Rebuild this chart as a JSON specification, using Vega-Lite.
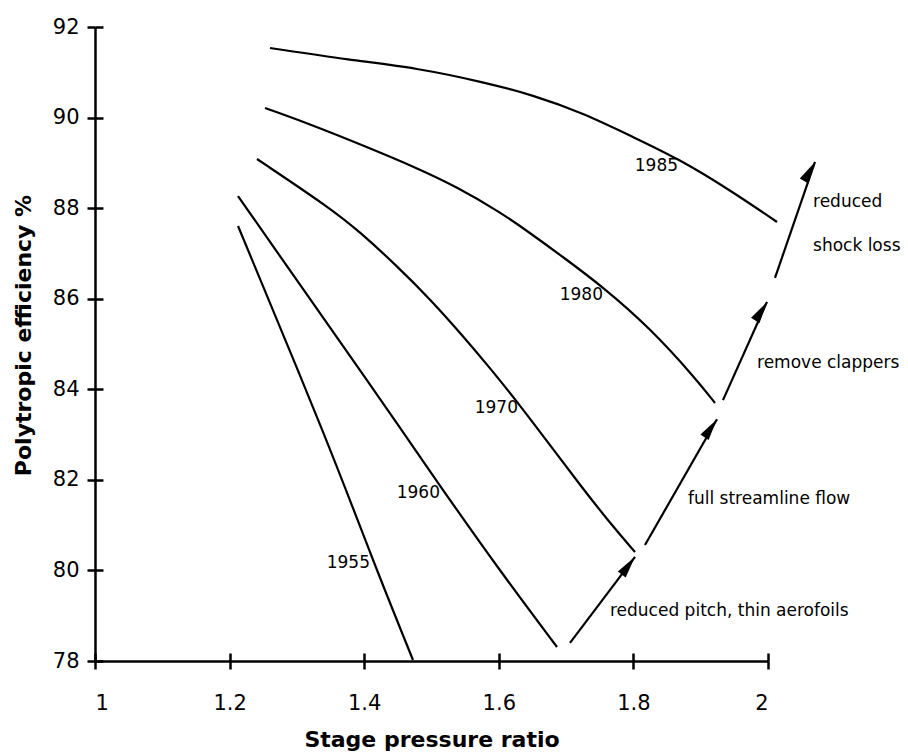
{
  "$schema": "https://vega.github.io/schema/vega-lite/v6.json",
  "width": 673,
  "height": 634,
  "autosize": {"type": "none"},
  "padding": {"left": 95, "top": 27, "right": 140, "bottom": 91},
  "background": "white",
  "datasets": {
    "curves": [
      {"year": "1955", "ratio": 1.2125, "eff": 87.606},
      {"year": "1955", "ratio": 1.3492, "eff": 82.726},
      {"year": "1955", "ratio": 1.4131, "eff": 80.208},
      {"year": "1955", "ratio": 1.4725, "eff": 78.022},
      {"year": "1960", "ratio": 1.2125, "eff": 88.268},
      {"year": "1960", "ratio": 1.3046, "eff": 86.303},
      {"year": "1960", "ratio": 1.3982, "eff": 84.338},
      {"year": "1960", "ratio": 1.5126, "eff": 81.864},
      {"year": "1960", "ratio": 1.6018, "eff": 79.987},
      {"year": "1960", "ratio": 1.6865, "eff": 78.309},
      {"year": "1970", "ratio": 1.2407, "eff": 89.085},
      {"year": "1970", "ratio": 1.3492, "eff": 88.003},
      {"year": "1970", "ratio": 1.3938, "eff": 87.473},
      {"year": "1970", "ratio": 1.4487, "eff": 86.722},
      {"year": "1970", "ratio": 1.4978, "eff": 85.994},
      {"year": "1970", "ratio": 1.5468, "eff": 85.177},
      {"year": "1970", "ratio": 1.5869, "eff": 84.47},
      {"year": "1970", "ratio": 1.6241, "eff": 83.786},
      {"year": "1970", "ratio": 1.6716, "eff": 82.858},
      {"year": "1970", "ratio": 1.7207, "eff": 81.887},
      {"year": "1970", "ratio": 1.7652, "eff": 81.047},
      {"year": "1970", "ratio": 1.8024, "eff": 80.407},
      {"year": "1980", "ratio": 1.2526, "eff": 90.211},
      {"year": "1980", "ratio": 1.315, "eff": 89.88},
      {"year": "1980", "ratio": 1.4042, "eff": 89.35},
      {"year": "1980", "ratio": 1.4785, "eff": 88.886},
      {"year": "1980", "ratio": 1.5379, "eff": 88.467},
      {"year": "1980", "ratio": 1.6018, "eff": 87.915},
      {"year": "1980", "ratio": 1.6464, "eff": 87.451},
      {"year": "1980", "ratio": 1.6954, "eff": 86.921},
      {"year": "1980", "ratio": 1.7548, "eff": 86.259},
      {"year": "1980", "ratio": 1.8247, "eff": 85.353},
      {"year": "1980", "ratio": 1.8945, "eff": 84.205},
      {"year": "1980", "ratio": 1.9212, "eff": 83.697},
      {"year": "1985", "ratio": 1.26, "eff": 91.536},
      {"year": "1985", "ratio": 1.3789, "eff": 91.271},
      {"year": "1985", "ratio": 1.4785, "eff": 91.095},
      {"year": "1985", "ratio": 1.5765, "eff": 90.786},
      {"year": "1985", "ratio": 1.6508, "eff": 90.498},
      {"year": "1985", "ratio": 1.7251, "eff": 90.101},
      {"year": "1985", "ratio": 1.7994, "eff": 89.571},
      {"year": "1985", "ratio": 1.8648, "eff": 89.107},
      {"year": "1985", "ratio": 1.9435, "eff": 88.401},
      {"year": "1985", "ratio": 2.0134, "eff": 87.694}
    ],
    "arrows": [
      {"step": "pitch", "end": "tail", "ratio": 1.7058, "eff": 78.4},
      {"step": "pitch", "end": "tip", "ratio": 1.8024, "eff": 80.3},
      {"step": "streamline", "end": "tail", "ratio": 1.8172, "eff": 80.56},
      {"step": "streamline", "end": "tip", "ratio": 1.9242, "eff": 83.34},
      {"step": "clappers", "end": "tail", "ratio": 1.9331, "eff": 83.76},
      {"step": "clappers", "end": "tip", "ratio": 1.9985, "eff": 85.93},
      {"step": "shock", "end": "tail", "ratio": 2.0104, "eff": 86.46},
      {"step": "shock", "end": "tip", "ratio": 2.0698, "eff": 89.02}
    ],
    "yearLabels": [
      {"label": "1955", "ratio": 1.4086, "eff": 80.16},
      {"label": "1960", "ratio": 1.5126, "eff": 81.71},
      {"label": "1970", "ratio": 1.6285, "eff": 83.59},
      {"label": "1980", "ratio": 1.7548, "eff": 86.08},
      {"label": "1985", "ratio": 1.8663, "eff": 88.93}
    ],
    "notes": [
      {"label": "reduced pitch, thin aerofoils", "ratio": 1.7652, "eff": 79.1},
      {"label": "full streamline flow", "ratio": 1.8811, "eff": 81.58},
      {"label": "remove clappers", "ratio": 1.9837, "eff": 84.58},
      {"label": "reduced", "ratio": 2.0669, "eff": 88.14},
      {"label": "shock loss", "ratio": 2.0669, "eff": 87.16}
    ]
  },
  "config": {
    "view": {"stroke": null},
    "font": "DejaVu Sans",
    "axis": {
      "domainColor": "black",
      "domainWidth": 2.5,
      "tickColor": "black",
      "tickWidth": 2.5,
      "tickSize": 8,
      "labelColor": "black",
      "labelFont": "DejaVu Sans",
      "labelFontSize": 21,
      "titleFont": "DejaVu Sans",
      "titleFontSize": 22,
      "titleFontWeight": "bold",
      "titleColor": "black",
      "grid": false
    }
  },
  "resolve": {"axis": {"x": "independent", "y": "independent"}},
  "layer": [
    {
      "data": {"name": "curves"},
      "mark": {"type": "line", "color": "black", "strokeWidth": 2.2, "interpolate": "basis"},
      "encoding": {
        "x": {
          "field": "ratio", "type": "quantitative",
          "scale": {"domain": [1, 2], "nice": false, "zero": false},
          "axis": {
            "orient": "bottom",
            "values": [1, 1.2, 1.4, 1.6, 1.8, 2],
            "format": "~g",
            "labelPadding": 23,
            "title": "Stage pressure ratio",
            "titleBaseline": "alphabetic",
            "titleY": 85
          }
        },
        "y": {
          "field": "eff", "type": "quantitative",
          "scale": {"domain": [78, 92], "nice": false, "zero": false},
          "axis": {
            "orient": "left",
            "values": [78, 80, 82, 84, 86, 88, 90, 92],
            "format": "d",
            "labelPadding": 8,
            "title": "Polytropic efficiency %",
            "titleAngle": -90,
            "titleBaseline": "middle",
            "titleX": -72,
            "titleY": 308
          }
        },
        "detail": {"field": "year", "type": "nominal"}
      }
    },
    {
      "data": {"name": "arrows"},
      "mark": {"type": "line", "color": "black", "strokeWidth": 2.2},
      "encoding": {
        "x": {"field": "ratio", "type": "quantitative", "axis": null},
        "y": {"field": "eff", "type": "quantitative", "axis": null},
        "detail": {"field": "step", "type": "nominal"}
      }
    },
    {
      "data": {"name": "arrows"},
      "transform": [{"filter": "datum.end === 'tip'"}],
      "mark": {
        "type": "point",
        "shape": "M0,0L0.45,2L-0.45,2Z",
        "filled": true,
        "color": "black",
        "opacity": 1,
        "size": 484,
        "strokeWidth": 0
      },
      "encoding": {
        "x": {"field": "ratio", "type": "quantitative", "axis": null},
        "y": {"field": "eff", "type": "quantitative", "axis": null},
        "angle": {
          "field": "step", "type": "nominal", "legend": null,
          "scale": {"domain": ["pitch", "streamline", "clappers", "shock"], "range": [37.1, 29.7, 24.2, 19.0]}
        }
      }
    },
    {
      "data": {"name": "yearLabels"},
      "mark": {"type": "text", "align": "right", "baseline": "middle", "font": "DejaVu Sans", "fontSize": 17, "color": "black"},
      "encoding": {
        "x": {"field": "ratio", "type": "quantitative", "axis": null},
        "y": {"field": "eff", "type": "quantitative", "axis": null},
        "text": {"field": "label"}
      }
    },
    {
      "data": {"name": "notes"},
      "mark": {"type": "text", "align": "left", "baseline": "middle", "font": "DejaVu Sans", "fontSize": 17, "color": "black"},
      "encoding": {
        "x": {"field": "ratio", "type": "quantitative", "axis": null},
        "y": {"field": "eff", "type": "quantitative", "axis": null},
        "text": {"field": "label"}
      }
    },
    {
      "data": {"name": "curves"},
      "mark": {"type": "point", "opacity": 0},
      "encoding": {
        "x": {
          "field": "ratio", "type": "quantitative",
          "axis": {"orient": "bottom", "offset": -8, "domain": false, "labels": false, "ticks": true, "title": null, "values": [1, 1.2, 1.4, 1.6, 1.8, 2]}
        },
        "y": {
          "field": "eff", "type": "quantitative",
          "axis": {"orient": "left", "offset": -8, "domain": false, "labels": false, "ticks": true, "title": null, "values": [78, 80, 82, 84, 86, 88, 90, 92]}
        }
      }
    }
  ]
}
